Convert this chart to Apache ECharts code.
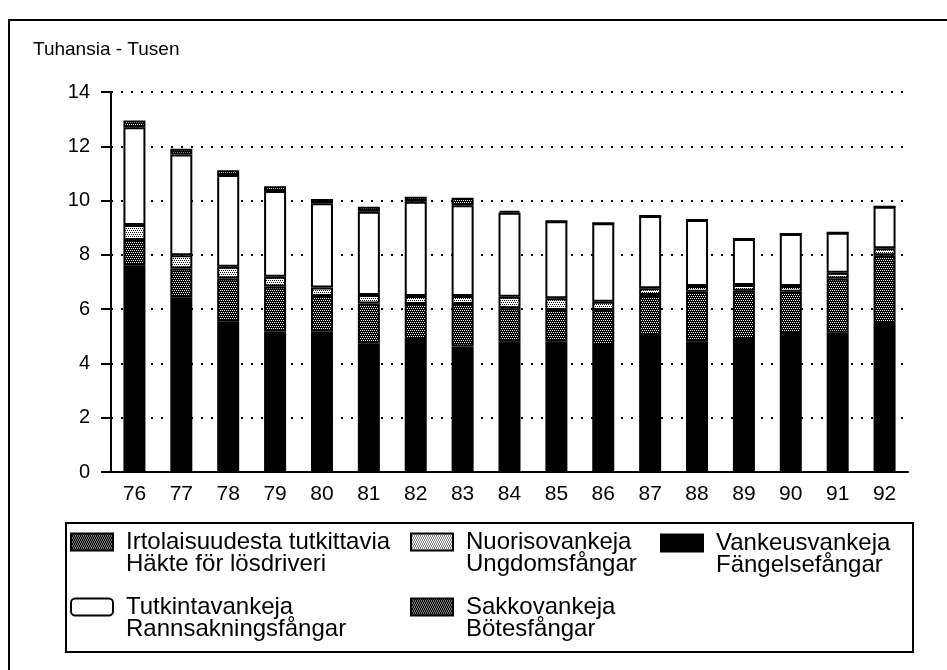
<!DOCTYPE html>
<html>
<head>
    <meta charset="UTF-8">
    <title>Vankiluku 1976-1992</title>
    <script src="https://cdn.jsdelivr.net/npm/echarts@6/dist/echarts.min.js"></script>
</head>
<body style="margin:0;background:#fff">
    <div id="main" style="width:947px; height:670px;"></div>
    <script>
        // vuodet / år
        var years = ['76', '77', '78', '79', '80', '81', '82', '83', '84', '85', '86', '87', '88', '89', '90', '91', '92'];
        var yTicks = [0, 2, 4, 6, 8, 10, 12, 14];

        // tuhansia - tusen
        var vankeus  = [7.60, 6.42, 5.54, 5.17, 5.17, 4.74, 4.86, 4.62, 4.80, 4.80, 4.68, 5.05, 4.80, 4.86, 5.08, 5.13, 5.45];
        var sakko    = [0.95, 1.08, 1.59, 1.66, 1.31, 1.47, 1.33, 1.57, 1.23, 1.17, 1.29, 1.47, 1.84, 1.82, 1.56, 2.00, 2.54];
        var nuoriso  = [0.55, 0.49, 0.43, 0.36, 0.32, 0.31, 0.29, 0.29, 0.43, 0.43, 0.30, 0.25, 0.21, 0.21, 0.21, 0.21, 0.25];
        var tutkinta = [3.60, 3.71, 3.38, 3.16, 3.10, 3.07, 3.48, 3.35, 3.09, 2.84, 2.89, 2.66, 2.43, 1.69, 1.92, 1.47, 1.53];
        var irto     = [0.25, 0.21, 0.18, 0.18, 0.16, 0.18, 0.18, 0.27, 0.07, 0, 0, 0, 0, 0, 0, 0, 0];

        var names = {
            irto: 'Irtolaisuudesta tutkittavia\nHäkte för lösdriveri',
            nuoriso: 'Nuorisovankeja\nUngdomsfångar',
            vankeus: 'Vankeusvankeja\nFängelsefångar',
            tutkinta: 'Tutkintavankeja\nRannsakningsfångar',
            sakko: 'Sakkovankeja\nBötesfångar'
        };

        // small bitmap fills for the screened segments
        function pattern(rows) {
            var c = document.createElement('canvas');
            c.width = rows[0].length;
            c.height = rows.length;
            var ctx = c.getContext('2d');
            for (var y = 0; y < rows.length; y++) {
                for (var x = 0; x < rows[y].length; x++) {
                    ctx.fillStyle = rows[y][x] == 'b' ? '#000' : '#fff';
                    ctx.fillRect(x, y, 1, 1);
                }
            }
            return { image: c, repeat: 'repeat' };
        }
        var darkFill = pattern(['bwbw', 'bbbb', 'wbwb', 'bbbb']);
        var lightFill = pattern(['bwbw', 'wwww', 'wbwb', 'wwww']);

        var font = '"Liberation Sans", Arial, sans-serif';

        function bar(name, data, fill) {
            return {
                name: name, type: 'bar', stack: 'all', data: data, barWidth: 22,
                itemStyle: { color: fill, borderColor: '#000', borderWidth: 2 },
                emphasis: { disabled: true }
            };
        }

        // blank first line keeps the icon level with the first text line
        function legend(name, left, top, icon) {
            return {
                data: [{ name: name, icon: icon || 'rect' }],
                left: left, top: top, padding: 0,
                itemWidth: 42, itemHeight: 17, itemGap: 0, selectedMode: false,
                formatter: function (n) { return '{g| }\n{t|' + n.split('\n').join('}\n{t|') + '}'; },
                textStyle: {
                    fontFamily: font, fontSize: 24, color: '#000',
                    rich: {
                        g: { fontSize: 24, lineHeight: 22, width: 8 },
                        t: { fontFamily: font, fontSize: 24, lineHeight: 22, color: '#000', padding: [0, 0, 0, 8] }
                    }
                }
            };
        }

        var chart = echarts.init(document.getElementById('main'), null, { renderer: 'canvas' });
        chart.setOption({
            animation: false,
            backgroundColor: '#fff',
            title: {
                text: 'Tuhansia - Tusen', left: 33, top: 40, padding: 0,
                textStyle: { fontFamily: font, fontSize: 19, fontWeight: 'normal', color: '#000' }
            },
            grid: { left: 111, right: 39, top: 92, bottom: 198 },
            xAxis: {
                type: 'category', data: years,
                axisLine: { lineStyle: { color: '#000', width: 2 } },
                axisTick: { show: false },
                axisLabel: { fontFamily: font, fontSize: 21, color: '#000', margin: 12 }
            },
            yAxis: {
                type: 'value', min: yTicks[0], max: yTicks[yTicks.length - 1], interval: 2,
                axisLine: { show: true, lineStyle: { color: '#000', width: 2 } },
                axisTick: { show: true, length: 10, lineStyle: { color: '#000', width: 2 } },
                axisLabel: { fontFamily: font, fontSize: 20, color: '#000', margin: 21 },
                splitLine: { lineStyle: { color: '#000', width: 2, type: [2, 8] } }
            },
            legend: [
                legend(names.irto, 70, 508),
                legend(names.tutkinta, 70, 573, 'roundRect'),
                legend(names.nuoriso, 410, 508),
                legend(names.sakko, 410, 573),
                legend(names.vankeus, 660, 509)
            ],
            graphic: [
                { type: 'rect', shape: { x: 9, y: 20, width: 960, height: 700 }, style: { fill: 'none', stroke: '#000', lineWidth: 2 }, silent: true },
                { type: 'rect', shape: { x: 66, y: 523, width: 847, height: 129 }, style: { fill: 'none', stroke: '#000', lineWidth: 2 }, silent: true }
            ],
            series: [
                bar(names.vankeus, vankeus, '#000'),
                bar(names.sakko, sakko, darkFill),
                bar(names.nuoriso, nuoriso, lightFill),
                bar(names.tutkinta, tutkinta, '#fff'),
                bar(names.irto, irto, darkFill)
            ]
        });
    </script>
</body>
</html>
